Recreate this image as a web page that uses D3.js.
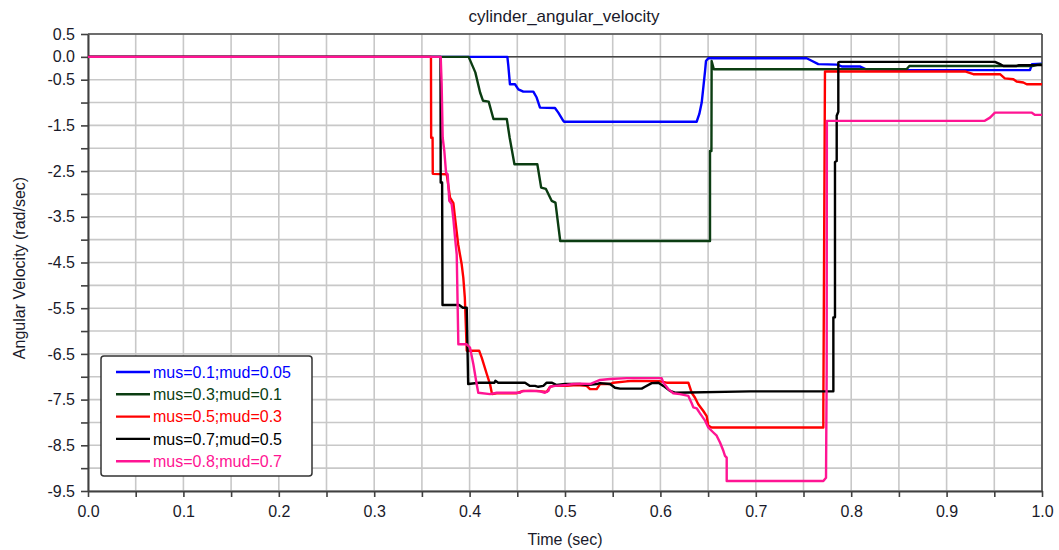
<!DOCTYPE html>
<html>
<head>
<meta charset="utf-8">
<script src="https://cdn.jsdelivr.net/npm/d3@7"></script>
<style>
  body { margin: 0; background: #fff; }
  svg { display: block; font-family: "Liberation Sans", Arial, sans-serif; }
</style>
</head>
<body>
<svg id="chart" width="1059" height="550"></svg>
<script>
// ---------------- data ----------------
const chartTitle = "cylinder_angular_velocity";
const xLabel = "Time (sec)";
const yLabel = "Angular Velocity (rad/sec)";

const seriesNames = ["mus=0.1;mud=0.05", "mus=0.3;mud=0.1", "mus=0.5;mud=0.3", "mus=0.7;mud=0.5", "mus=0.8;mud=0.7"];
const seriesColors = ["#0000ff", "#0b3d12", "#ff0000", "#000000", "#ff1493"];

const xTickLabels = ["0.0","0.1","0.2","0.3","0.4","0.5","0.6","0.7","0.8","0.9","1.0"];
const yTickLabels = ["0.5","0.0","-0.5","-1.5","-2.5","-3.5","-4.5","-5.5","-6.5","-7.5","-8.5","-9.5"];

// [time, angular velocity]
const blueData = [[0,0],[0.4396,0],[0.4406,-0.2],[0.4423,-0.6],[0.4476,-0.6],[0.4511,-0.71],[0.4563,-0.76],[0.4668,-0.76],[0.4703,-0.89],[0.4738,-1.11],[0.4895,-1.12],[0.493,-1.22],[0.4982,-1.40],[0.499,-1.42],[0.638,-1.42],[0.6408,-1.25],[0.6433,-1.0],[0.645,-0.67],[0.6468,-0.31],[0.6478,-0.09],[0.6502,-0.03],[0.7533,-0.03],[0.758,-0.08],[0.7655,-0.16],[0.785,-0.17],[0.79,-0.21],[0.809,-0.21],[0.815,-0.27],[0.862,-0.29],[0.9874,-0.29],[0.9895,-0.16],[1.0,-0.15]];

const greenData = [[0,0],[0.399,0],[0.406,-0.34],[0.411,-0.78],[0.414,-0.96],[0.420,-0.98],[0.425,-1.36],[0.439,-1.36],[0.442,-1.77],[0.447,-2.35],[0.471,-2.35],[0.475,-2.86],[0.480,-2.89],[0.486,-3.15],[0.490,-3.19],[0.495,-4.03],[0.652,-4.03],[0.652,-2.06],[0.6535,-2.06],[0.6537,-0.09],[0.656,-0.27],[0.858,-0.27],[0.861,-0.20],[0.99,-0.20],[0.996,-0.17],[1.0,-0.16]];

const redData = [[0,0],[0.3595,0],[0.3597,-1.77],[0.3612,-1.77],[0.3614,-2.56],[0.376,-2.57],[0.3795,-3.08],[0.383,-3.2],[0.3847,-3.52],[0.388,-4.10],[0.3917,-4.54],[0.3934,-4.83],[0.395,-5.27],[0.397,-6.43],[0.410,-6.43],[0.4127,-6.58],[0.418,-6.94],[0.4214,-7.16],[0.4235,-7.38],[0.4284,-7.36],[0.4494,-7.36],[0.4563,-7.31],[0.4703,-7.31],[0.4808,-7.33],[0.4843,-7.22],[0.4878,-7.20],[0.5018,-7.20],[0.5122,-7.18],[0.5227,-7.20],[0.5262,-7.27],[0.5332,-7.27],[0.5367,-7.16],[0.5472,-7.16],[0.5507,-7.13],[0.5647,-7.10],[0.5716,-7.09],[0.5996,-7.10],[0.6066,-7.13],[0.6293,-7.13],[0.6328,-7.35],[0.6363,-7.46],[0.6397,-7.60],[0.645,-7.75],[0.6485,-7.86],[0.6502,-8.07],[0.6537,-8.11],[0.7708,-8.11],[0.7708,-7.71],[0.7725,-0.32],[0.9193,-0.32],[0.928,-0.38],[0.956,-0.38],[0.961,-0.47],[0.97,-0.49],[0.9734,-0.54],[0.9804,-0.56],[0.984,-0.60],[1.0,-0.60]];

const blackData = [[0,0],[0.3695,0],[0.3697,-2.75],[0.3712,-2.75],[0.3716,-5.43],[0.389,-5.43],[0.393,-5.49],[0.397,-5.49],[0.3985,-7.16],[0.41,-7.13],[0.426,-7.13],[0.427,-7.09],[0.430,-7.13],[0.4581,-7.13],[0.4633,-7.20],[0.4686,-7.20],[0.472,-7.22],[0.4773,-7.20],[0.4808,-7.13],[0.486,-7.13],[0.4913,-7.18],[0.5,-7.16],[0.5157,-7.16],[0.5227,-7.18],[0.5332,-7.16],[0.5367,-7.14],[0.5472,-7.16],[0.5524,-7.24],[0.5577,-7.26],[0.5804,-7.26],[0.5839,-7.22],[0.5909,-7.14],[0.5979,-7.13],[0.6031,-7.20],[0.61,-7.31],[0.6153,-7.35],[0.694,-7.32],[0.7813,-7.32],[0.7813,-5.70],[0.783,-5.70],[0.783,-2.3],[0.7848,-2.28],[0.7848,-1.29],[0.7865,-1.2],[0.7865,-0.12],[0.788,-0.11],[0.9507,-0.11],[0.956,-0.16],[0.9595,-0.20],[0.9734,-0.20],[0.976,-0.18],[1.0,-0.18]];

const pinkData = [[0,0],[0.3697,0],[0.3707,-0.6],[0.3718,-1.77],[0.3735,-2.06],[0.3753,-2.53],[0.377,-2.57],[0.3787,-3.15],[0.3812,-3.22],[0.383,-3.55],[0.3847,-3.95],[0.3865,-4.32],[0.3882,-6.29],[0.397,-6.29],[0.4004,-6.36],[0.4039,-6.72],[0.4074,-7.16],[0.4091,-7.35],[0.4214,-7.38],[0.4284,-7.35],[0.4528,-7.35],[0.4546,-7.32],[0.4633,-7.31],[0.4738,-7.32],[0.479,-7.35],[0.4825,-7.31],[0.4843,-7.22],[0.4895,-7.20],[0.5018,-7.18],[0.5088,-7.16],[0.5175,-7.15],[0.5262,-7.16],[0.5367,-7.07],[0.5472,-7.05],[0.5647,-7.03],[0.6013,-7.03],[0.6031,-7.13],[0.6083,-7.27],[0.6135,-7.36],[0.6205,-7.38],[0.6293,-7.42],[0.6328,-7.58],[0.6345,-7.67],[0.638,-7.69],[0.6415,-7.80],[0.6468,-7.96],[0.6502,-8.11],[0.6555,-8.22],[0.659,-8.29],[0.6625,-8.44],[0.666,-8.62],[0.6677,-8.73],[0.6695,-8.77],[0.6695,-9.28],[0.7708,-9.28],[0.7736,-9.21],[0.7743,-6.87],[0.7745,-1.40],[0.776,-1.40],[0.940,-1.40],[0.9455,-1.33],[0.9507,-1.22],[0.989,-1.22],[0.9927,-1.27],[1.0,-1.27]];

const allSeries = [blueData, greenData, redData, blackData, pinkData];

// ---------------- layout ----------------
const W = 1059, H = 550;
const plot = { left: 88, right: 1042, top: 34, bottom: 491 };

const svg = d3.select("#chart");
const x = d3.scaleLinear().domain([0, 1]).range([plot.left, plot.right]);
const y = d3.scaleLinear().domain([-9.5, 0.5]).range([plot.bottom, plot.top]);

const xGrid = d3.range(0, 21).map(i => i * 0.05);
const yGrid = d3.range(0, 21).map(i => 0.5 - i * 0.5);

// gridlines
const grid = svg.append("g");
grid.selectAll("line.vx").data(xGrid).enter().append("line")
  .attr("x1", d => x(d)).attr("x2", d => x(d))
  .attr("y1", plot.top).attr("y2", plot.bottom)
  .attr("stroke", "#c8c8c8").attr("stroke-width", 1.6);
grid.selectAll("line.hy").data(yGrid).enter().append("line")
  .attr("x1", plot.left).attr("x2", plot.right)
  .attr("y1", d => y(d)).attr("y2", d => y(d))
  .attr("stroke", "#c8c8c8").attr("stroke-width", 1.6);

// zero reference line
svg.append("line")
  .attr("x1", plot.left).attr("x2", plot.right)
  .attr("y1", y(0)).attr("y2", y(0))
  .attr("stroke", "#000").attr("stroke-width", 1);

// frame (top/right)
svg.append("line").attr("x1", plot.left).attr("x2", plot.right)
  .attr("y1", plot.top).attr("y2", plot.top)
  .attr("stroke", "#4a4a4a").attr("stroke-width", 1.6);
svg.append("line").attr("x1", plot.right).attr("x2", plot.right)
  .attr("y1", plot.top).attr("y2", plot.bottom)
  .attr("stroke", "#4a4a4a").attr("stroke-width", 1.6);

// axes
const xAxis = d3.axisBottom(x).tickValues(xGrid).tickSize(6).tickSizeOuter(0)
  .tickFormat(d => {
    const i = Math.round(d * 20);
    return i % 2 === 0 ? xTickLabels[i / 2] : "";
  });
const gx = svg.append("g").attr("transform", `translate(0,${plot.bottom})`).call(xAxis);
gx.select(".domain").attr("stroke", "#404040").attr("stroke-width", 2);
gx.selectAll(".tick line").attr("stroke", "#404040").attr("stroke-width", 1.6);
gx.selectAll(".tick text").attr("font-size", 16).attr("fill", "#1a1a2a")
  .attr("font-family", "Liberation Sans, Arial, sans-serif").attr("dy", "1.05em");

const yLabelMap = {};
yTickLabels.forEach(s => { yLabelMap[(+s).toFixed(1)] = s; });
const yAxis = d3.axisLeft(y).tickValues(yGrid).tickSize(7).tickSizeOuter(0)
  .tickFormat(d => yLabelMap[d.toFixed(1)] || "");
const gy = svg.append("g").attr("transform", `translate(${plot.left},0)`).call(yAxis);
gy.select(".domain").attr("stroke", "#404040").attr("stroke-width", 2);
gy.selectAll(".tick line").attr("stroke", "#404040").attr("stroke-width", 1.6);
gy.selectAll(".tick text").attr("font-size", 16).attr("fill", "#1a1a2a")
  .attr("font-family", "Liberation Sans, Arial, sans-serif").attr("x", -13);

// series
const line = d3.line().x(d => x(d[0])).y(d => y(d[1]));
const clip = svg.append("clipPath").attr("id", "clip").append("rect")
  .attr("x", plot.left).attr("y", plot.top - 2)
  .attr("width", plot.right - plot.left).attr("height", plot.bottom - plot.top + 2);
svg.append("g").attr("clip-path", "url(#clip)")
  .selectAll("path").data(allSeries).enter().append("path")
  .attr("d", line)
  .attr("fill", "none")
  .attr("stroke", (d, i) => seriesColors[i])
  .attr("stroke-width", 2.4)
  .attr("stroke-linejoin", "round");

// titles
svg.append("text").attr("x", 564).attr("y", 22).attr("text-anchor", "middle")
  .attr("font-size", 17).attr("fill", "#1a1a2a").text(chartTitle);
svg.append("text").attr("x", 565).attr("y", 545).attr("text-anchor", "middle")
  .attr("font-size", 16).attr("fill", "#1a1a2a").text(xLabel);
svg.append("text").attr("transform", "translate(25,268) rotate(-90)").attr("text-anchor", "middle")
  .attr("font-size", 16).attr("fill", "#1a1a2a").text(yLabel);

// legend
const lg = svg.append("g");
lg.append("rect").attr("x", 101).attr("y", 356).attr("width", 211).attr("height", 120)
  .attr("rx", 3).attr("fill", "#fff").attr("stroke", "#333").attr("stroke-width", 1.5);
const rows = lg.selectAll("g.row").data(seriesNames).enter().append("g")
  .attr("transform", (d, i) => `translate(0,${372 + i * 22.3})`);
rows.append("line").attr("x1", 116).attr("x2", 150).attr("y1", 0).attr("y2", 0)
  .attr("stroke", (d, i) => seriesColors[i]).attr("stroke-width", 2.4);
rows.append("text").attr("x", 153).attr("y", 0).attr("dy", "0.36em")
  .attr("font-size", 16).attr("fill", (d, i) => seriesColors[i]).text(d => d);
</script>
</body>
</html>
